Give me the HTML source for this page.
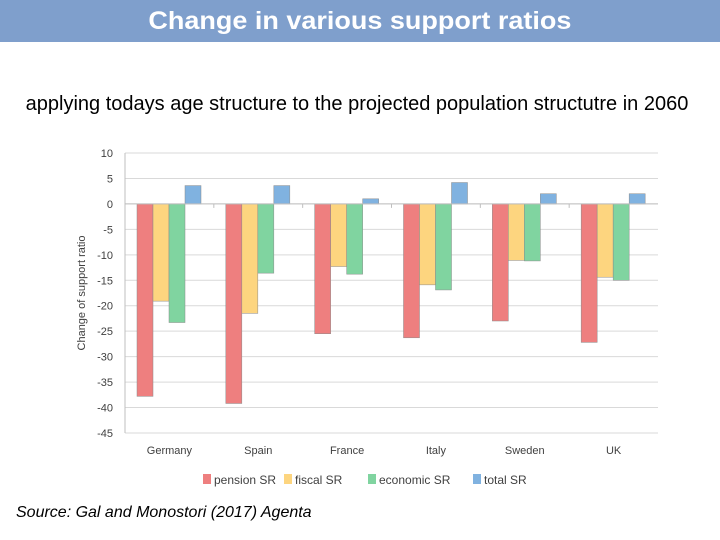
<!DOCTYPE html>
<html><head><meta charset="utf-8"><style>
body{margin:0;width:720px;height:540px;background:#fff;font-family:"Liberation Sans",sans-serif;position:relative;overflow:hidden}
#hdr{position:absolute;left:0;top:0;width:720px;height:42px;background:#7f9fcc;color:#fff;font-weight:bold;font-size:25px;text-align:center;line-height:42px}
#sub{position:absolute;left:0;top:93px;width:714px;text-align:center;font-size:20px;color:#000}
#src{position:absolute;left:16px;top:504px;font-size:16px;font-style:italic;color:#000}
</style></head><body>
<div id="hdr"><span style="display:inline-block;transform:scaleX(1.08)">Change in various support ratios</span></div>
<div id="sub">applying todays age structure to the projected population structutre in 2060</div>
<svg id="chart" width="720" height="540" style="position:absolute;left:0;top:0"></svg>
<div id="src">Source: Gal and Monostori (2017) Agenta</div>
<script>
const categories=["Germany","Spain","France","Italy","Sweden","UK"];
const seriesNames=["pension SR","fiscal SR","economic SR","total SR"];
const pension=[-37.8,-39.2,-25.5,-26.3,-23,-27.2];
const fiscal=[-19.1,-21.5,-12.3,-15.9,-11.1,-14.4];
const economic=[-23.3,-13.6,-13.8,-16.9,-11.2,-15];
const total=[3.6,3.6,1,4.2,2,2];
const yTicks=[10,5,0,-5,-10,-15,-20,-25,-30,-35,-40,-45];
const colors=["#ee7f7f","#fdd57f","#80d4a0","#80b2e0"];
const NS="http://www.w3.org/2000/svg";
const svg=document.getElementById('chart');
const x0=125,x1=658,yTop=153,yBot=433;
const y=v=>yTop+(10-v)*(yBot-yTop)/55;
const gw=(x1-x0)/categories.length;
function mk(t,a){const e=document.createElementNS(NS,t);for(const k in a)e.setAttribute(k,a[k]);svg.appendChild(e);return e;}
yTicks.forEach(t=>{
 const l=mk('line',{x1:x0,x2:x1,y1:y(t),y2:y(t),stroke:'#d9d9d9','stroke-width':1});
 
 
 const tx=mk('text',{x:x0-12,y:y(t)+4,'text-anchor':'end','font-size':11,fill:'#404040'});
 tx.textContent=t;
 
 
});
const ax=mk('line',{x1:x0,x2:x0,y1:yTop,y2:yBot,stroke:'#bfbfbf'});


const series=[pension,fiscal,economic,total];
const bw=16;
categories.forEach((c,i)=>{
 const gx=x0+i*gw;
 series.forEach((s,j)=>{
  const v=s[i];const bx=gx+12+j*bw;
  const r=mk('rect',{x:bx,y:Math.min(y(v),y(0)),width:bw,height:Math.abs(y(v)-y(0)),fill:colors[j],stroke:'#8a8a8a','stroke-width':0.5});
  
  
 });
 const tx=mk('text',{x:gx+gw/2,y:454,'text-anchor':'middle','font-size':11,fill:'#404040'});
 tx.textContent=c;
 
 
 if(i>0){const tk=mk('line',{x1:gx,x2:gx,y1:y(0),y2:y(0)+4,stroke:'#bfbfbf'});
 
 }
});
const zl=mk('line',{x1:x0,x2:x1,y1:y(0),y2:y(0),stroke:'#bfbfbf'});


const yt=mk('text',{x:0,y:0,transform:'translate(85,293) rotate(-90)','text-anchor':'middle','font-size':11,fill:'#404040'});
yt.textContent='Change of support ratio';


const lx=[203,284,368,473];
seriesNames.forEach((n,j)=>{
 const r=mk('rect',{x:lx[j],y:474,width:8,height:10,fill:colors[j]});
 
 
 const t=mk('text',{x:lx[j]+11,y:484,'font-size':12,fill:'#404040'});
 t.textContent=n;
 
 
});
</script>
</body></html>
